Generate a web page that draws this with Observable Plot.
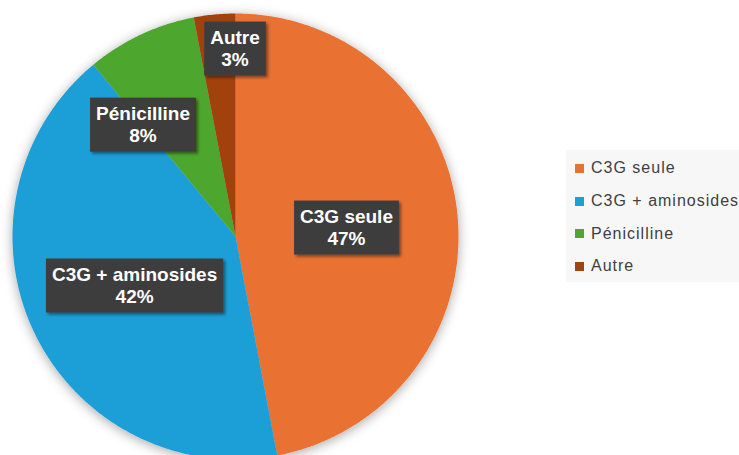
<!DOCTYPE html>
<html><head><meta charset="utf-8">
<script src="https://cdn.jsdelivr.net/npm/d3@7"></script>
<script src="https://cdn.jsdelivr.net/npm/@observablehq/plot@0.6"></script>
<style>
html,body{margin:0;padding:0;background:#fff;overflow:hidden;}
#wrap{position:relative;width:739px;height:455px;overflow:hidden;}
#chart svg{display:block;}
#legend{position:absolute;left:566px;top:150px;width:200px;height:132px;background:#f7f7f7;box-sizing:border-box;padding-top:2px;}
#legend > div{font-family:"Liberation Sans",Arial,sans-serif !important;font-size:16px !important;color:#404040 !important;letter-spacing:1px;margin:0 !important;}
#legend > div > div{height:32.7px !important;display:flex !important;align-items:center !important;padding:0 !important;margin:0 0 0 9px !important;white-space:nowrap;}
#legend svg{width:9px !important;height:9px !important;margin-right:7px !important;margin-left:0 !important;}
</style></head>
<body><div id="wrap"><div id="chart"></div><div id="legend"></div></div>
<script>
const categories = ["C3G seule", "C3G + aminosides", "Pénicilline", "Autre"];
const percents = [47, 42, 8, 3];
const colors = ["#E97132", "#1F9ED6", "#4EA72E", "#A1420F"];

const arcs = d3.pie().sort(null).value(d => d.value)(categories.map((c, i) => ({category: c, value: percents[i]})));

// slice outlines in unit-circle data coordinates
const slicePts = [];
arcs.forEach(a => {
  const c = a.data.category;
  slicePts.push({category: c, x: 0, y: 0});
  const n = Math.max(2, Math.ceil((a.endAngle - a.startAngle) / (Math.PI / 360)));
  for (let k = 0; k <= n; k++) {
    const t = a.startAngle + (a.endAngle - a.startAngle) * k / n;
    slicePts.push({category: c, x: Math.sin(t), y: Math.cos(t)});
  }
});

const labelData = arcs.map(a => {
  const m = (a.startAngle + a.endAngle) / 2;
  return {category: a.data.category, text: a.data.category + "\n" + a.data.value + "%", x: 0.5 * Math.sin(m), y: 0.5 * Math.cos(m)};
});
const nudges = [[0, 1], [0, 1], [-45, -11.5], [10, -77.5]];

const plot = Plot.plot({
  width: 739, height: 455,
  marginTop: 0, marginRight: 0, marginBottom: 0, marginLeft: 0,
  x: {domain: [-1, 1], range: [12, 458], axis: null},
  y: {domain: [-1, 1], range: [459, 13], axis: null},
  color: {domain: categories, range: colors},
  style: {background: "transparent", overflow: "hidden"},
  marks: [
    Plot.line(slicePts, {x: "x", y: "y", z: "category", fill: "category", stroke: null, curve: "linear-closed", className: "slices"}),
    ...labelData.map((d, i) => Plot.text([d], {
      x: "x", y: "y", text: "text", dx: nudges[i][0], dy: nudges[i][1],
      fill: "white", fontSize: 19, fontWeight: "bold", lineHeight: 22 / 19,
      fontFamily: "Liberation Sans, Arial, sans-serif", textAnchor: "middle", lineAnchor: "middle",
      className: "lbl"
    }))
  ]
});
document.getElementById("chart").appendChild(plot);

// shadows and label boxes
const svg = d3.select(plot);
const defs = svg.insert("defs", ":first-child");
defs.append("filter").attr("id", "pieShadow").attr("x", "-20%").attr("y", "-20%").attr("width", "140%").attr("height", "140%")
  .append("feDropShadow").attr("dx", 0).attr("dy", 2).attr("stdDeviation", 6).attr("flood-color", "#000").attr("flood-opacity", 0.35);
defs.append("filter").attr("id", "boxShadow").attr("x", "-20%").attr("y", "-20%").attr("width", "140%").attr("height", "140%")
  .append("feDropShadow").attr("dx", 2).attr("dy", 2).attr("stdDeviation", 1.5).attr("flood-color", "#000").attr("flood-opacity", 0.45);
svg.selectAll("g.slices").attr("filter", "url(#pieShadow)");
svg.selectAll("g.lbl text").each(function() {
  const b = this.getBBox();
  const pad = 6;
  const tr = this.getAttribute("transform");
  const r = d3.select(this.parentNode).insert("rect", () => this)
    .attr("x", b.x - pad).attr("y", b.y - pad + 0.5)
    .attr("width", b.width + 2 * pad).attr("height", b.height + 2 * pad - 1)
    .attr("fill", "#3e3e3e").attr("filter", "url(#boxShadow)");
  if (tr) r.attr("transform", tr);
});

const leg = Plot.legend({color: {domain: categories, range: colors}, legend: "swatches", columns: 1, swatchSize: 9});
document.getElementById("legend").appendChild(leg);
</script>
</body></html>
